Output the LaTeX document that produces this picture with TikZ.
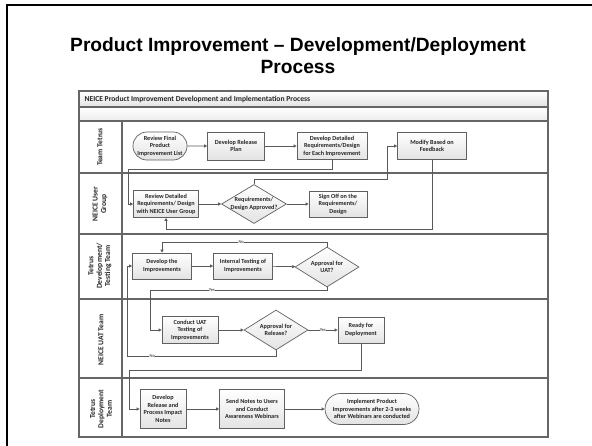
\documentclass[tikz,border=0pt]{standalone}
\usepackage{fontspec}
\setmainfont{Carlito}
\newfontfamily\titlefont{Liberation Sans}
\usetikzlibrary{shapes.geometric,shapes.misc,arrows.meta}
\newcommand\boxfont{\fontsize{6.2}{7.6}\selectfont\bfseries}
\newcommand\lanefont{\fontsize{7.6}{8.4}\selectfont\bfseries}
\begin{document}
\begin{tikzpicture}[x=1pt,y=-1pt,
  box/.style={draw=gray!75!black, line width=0.7pt, top color=white, bottom color=gray!22,
    inner sep=0pt, align=center, font=\boxfont, text=black!85},
  stadium/.style={box, shape=rounded rectangle},
  dia/.style={draw=gray!75!black, line width=0.7pt, top color=white, bottom color=gray!22,
    shape=diamond, inner sep=0pt},
  dtext/.style={align=center, font=\boxfont, text=black!85},
  lanetext/.style={rotate=90, align=center, font=\lanefont, text=black!85},
  laneline/.style={draw=gray!80!black, line width=1.1pt},
  conn/.style={draw=gray!70!black, line width=0.7pt, -{Triangle[length=3pt,width=3pt]}},
  lbl/.style={font=\fontsize{4.5}{5}\selectfont\bfseries, text=gray!70!black, fill=white, inner sep=0.3pt}
]
\useasboundingbox (0,0) rectangle (592,445);
\fill[white] (0,0) rectangle (592,445);
% slide frame
\draw[line width=2.5pt, black] (7,446) -- (7,5) -- (593,5);
% title
\node[font=\titlefont\fontsize{19.2}{22}\selectfont\bfseries, anchor=base] (t1) at (298,51) {Product Improvement – Development/Deployment};
\node[font=\titlefont\fontsize{19.2}{22}\selectfont\bfseries, anchor=base] (t2) at (298,73) {Process};
% table
\shade[top color=white, bottom color=gray!22] (79,91) rectangle (548,107);
\shade[top color=white, bottom color=gray!15] (79,107) rectangle (548,121);
\draw[laneline] (79,91) rectangle (548,437);
\foreach \yy in {107,121,173,234,299,378} \draw[laneline] (79,\yy) -- (548,\yy);
\draw[laneline] (122,121) -- (122,437);
\node[anchor=west, font=\fontsize{7.6}{8.4}\selectfont\bfseries, text=black!85] (hdr) at (81,99.5) {NEICE Product Improvement Development and Implementation Process};
% lane labels
\node[lanetext] (l1) at (100,147) {Team Tetrus};
\node[lanetext] (l2) at (100,204) {NEICE User\\Group};
\node[lanetext] (l3) at (100,266) {Tetrus\\Development/\\Testing Team};
\node[lanetext] (l4) at (101,340) {NEICE UAT Team};
\node[lanetext] (l5) at (101,409) {Tetrus\\Deployment\\Team};
% nodes
\node[stadium, minimum width=54pt, minimum height=28pt] (n1) at (160,146) {Review Final\\Product\\Improvement List};
\node[box, minimum width=57pt, minimum height=28pt] (n2) at (236,146) {Develop Release\\Plan};
\node[box, minimum width=70pt, minimum height=27pt] (n3) at (332,146) {Develop Detailed\\Requirements/Design\\for Each Improvement};
\node[box, minimum width=69pt, minimum height=27pt] (n4) at (432,146) {Modify Based on\\Feedback};
\node[box, minimum width=65pt, minimum height=27pt] (n5) at (166,204) {Review Detailed\\Requirements/ Design\\with NEICE User Group};
\node[dia, minimum width=65pt, minimum height=39pt, label={[dtext]center:Requirements/\\Design Approved?}] (d1) at (254,204) {};
\node[box, minimum width=58pt, minimum height=26pt] (n6) at (338,204) {Sign Off on the\\Requirements/\\Design};
\node[box, minimum width=59pt, minimum height=26pt] (n7) at (162,266) {Develop the\\Improvements};
\node[box, minimum width=59pt, minimum height=26pt] (n8) at (243,266) {Internal Testing of\\Improvements};
\node[dia, minimum width=64pt, minimum height=40pt, label={[dtext]center:Approval for\\UAT?}] (d2) at (327,267) {};
\node[box, minimum width=56pt, minimum height=27pt] (n9) at (190,330) {Conduct UAT\\Testing of\\Improvements};
\node[dia, minimum width=64pt, minimum height=40pt, label={[dtext]center:Approval for\\Release?}] (d3) at (276,330) {};
\node[box, minimum width=46pt, minimum height=26pt] (n10) at (361,330) {Ready for\\Deployment};
\node[box, minimum width=46pt, minimum height=39pt] (n11) at (163,409) {Develop\\Release and\\Process Impact\\Notes};
\node[box, minimum width=65pt, minimum height=39pt] (n12) at (252,409) {Send Notes to Users\\and Conduct\\Awareness Webinars};
\node[stadium, minimum width=94pt, minimum height=31pt] (n13) at (372,409) {Implement Product\\Improvements after 2-3 weeks\\after Webinars are conducted};
% connectors
\draw[conn] (n1) -- (n2);
\draw[conn] (n2) -- (n3);
\draw[conn] (n3.south) -- (332,169) -- (128,169) -- (128,204) -- (n5.west);
\draw[conn] (n5) -- (d1);
\draw[conn] (d1) -- (n6);
\draw[conn] (d1.north) -- (254,179) -- (387,179) -- (387,146) -- (n4.west);
\draw[conn] (n4.south) -- (432,229) -- (166,229) -- (n5.south);
\draw[conn] (d2.north) -- (327,242) -- node[lbl, pos=0.52] {No} (162,242) -- (n7.north);
\draw[conn] (n7) -- (n8);
\draw[conn] (n8) -- (d2);
\draw[conn] (d2.south) -- (327,290) -- node[lbl, pos=0.65] {Yes} (150,290) -- (150,330) -- (n9.west);
\draw[conn] (d3.south) -- (276,356) -- node[lbl, pos=0.83] {No} (127,356) -- (127,266) -- (n7.west);
\draw[conn] (n9) -- (d3);
\draw[conn] (d3) -- node[lbl] {Yes} (n10);
\draw[conn] (n10.south) -- (361,370) -- (129,370) -- (129,409) -- (n11.west);
\draw[conn] (n11) -- (n12);
\draw[conn] (n12) -- (n13);
\end{tikzpicture}
\end{document}
